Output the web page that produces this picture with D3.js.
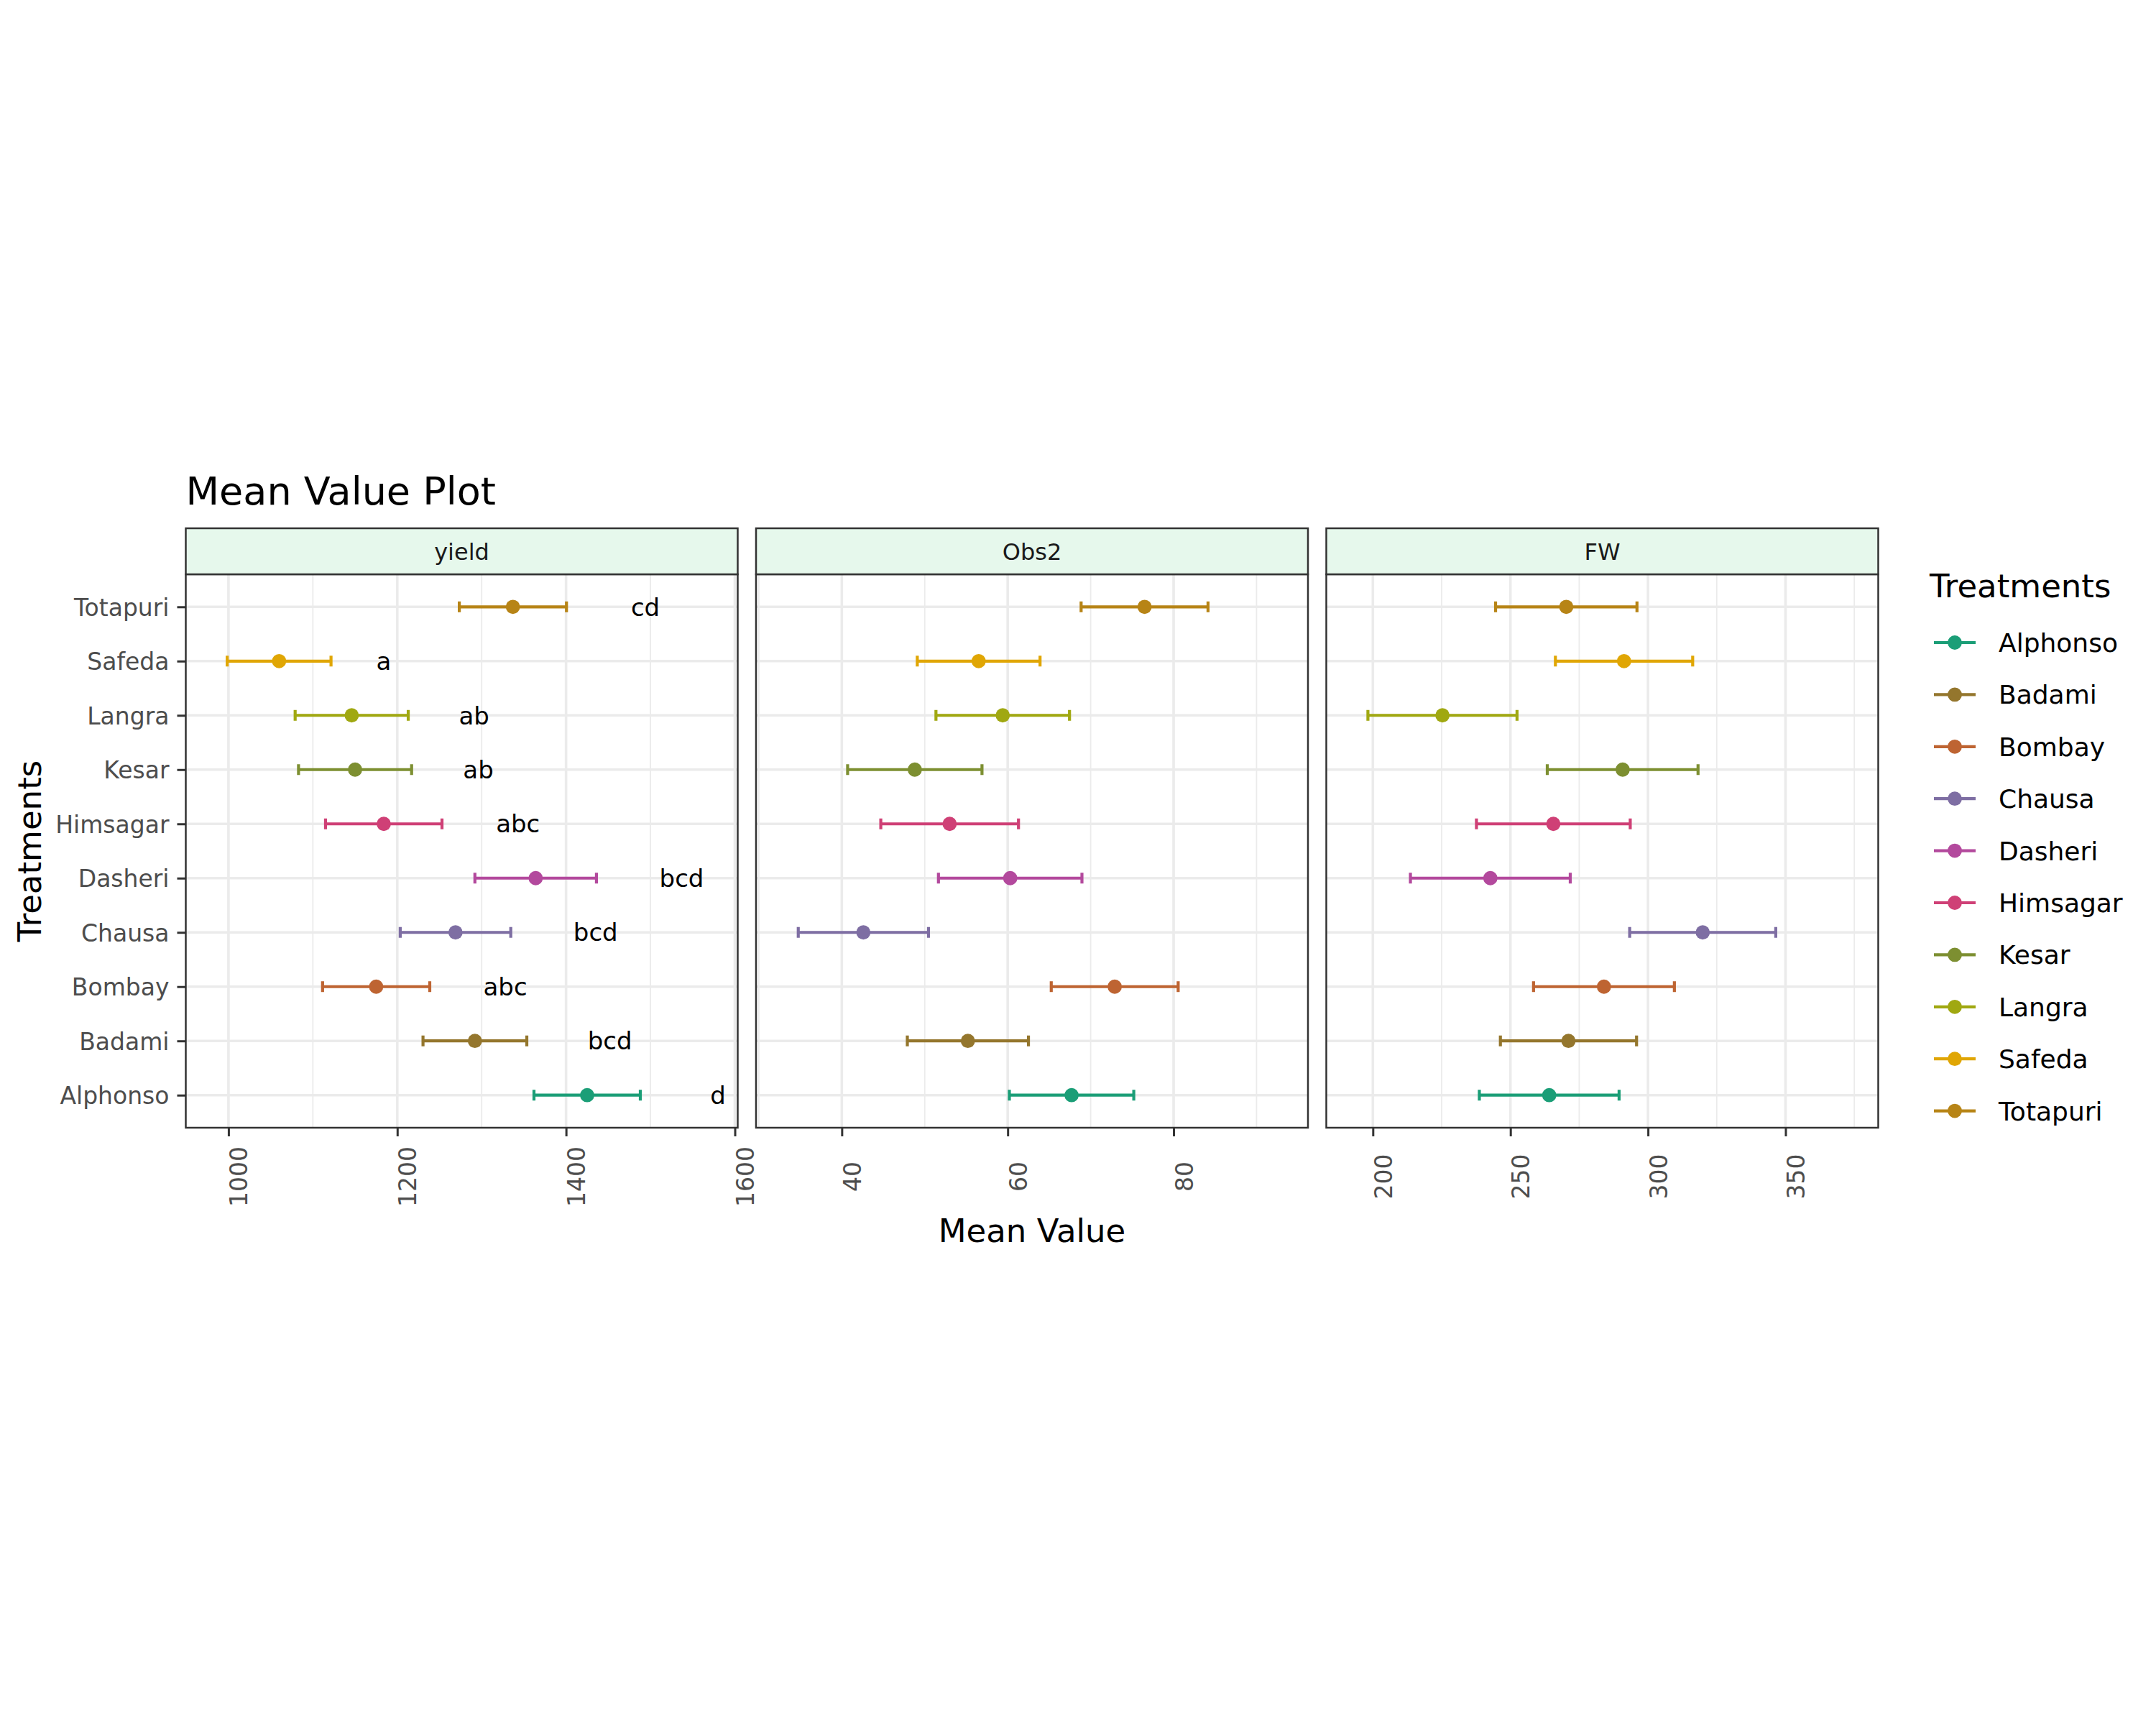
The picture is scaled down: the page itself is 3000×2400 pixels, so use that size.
<!DOCTYPE html>
<html>
<head>
<meta charset="utf-8">
<script src="https://cdn.jsdelivr.net/npm/d3@7"></script>
<style>
  body { margin: 0; background: #fff; }
  text { font-family: "DejaVu Sans", sans-serif; }
</style>
</head>
<body>
<svg id="chart"></svg>
<script>
// Treatments, bottom to top on the y axis (legend order top to bottom)
const treatments = ['Alphonso', 'Badami', 'Bombay', 'Chausa', 'Dasheri', 'Himsagar', 'Kesar', 'Langra', 'Safeda', 'Totapuri'];
const treatmentColors = ['#1B9E77', '#94762D', '#BE6432', '#7E6EA3', '#B3499D', '#CF4076', '#7D8F31', '#A0A811', '#E0A604', '#B78416'];

// yield
const yieldMean = [1425, 1292, 1175, 1269, 1364, 1184, 1150, 1146, 1060, 1337];
const yieldSe = [63, 61.5, 63.5, 65.5, 72, 69, 67, 67, 61.5, 63.5];
const yieldLetters = ['d', 'bcd', 'abc', 'bcd', 'bcd', 'abc', 'ab', 'ab', 'a', 'cd'];
const yieldLetterX = [1580, 1452, 1328, 1435, 1537, 1343, 1296, 1291, 1184, 1494];

// Obs2
const obs2Mean = [67.7, 55.2, 72.9, 42.6, 60.3, 53.0, 48.8, 59.4, 56.5, 76.5];
const obs2Se = [7.5, 7.3, 7.65, 7.85, 8.65, 8.3, 8.1, 8.05, 7.4, 7.65];

// FW
const fwMean = [264.1, 271.1, 284.0, 319.9, 242.7, 265.6, 290.8, 225.3, 291.3, 270.3];
const fwSe = [25.4, 24.75, 25.6, 26.55, 29.05, 27.95, 27.4, 27.1, 24.95, 25.7];

// axis ticks per panel
const yieldTicks = [1000, 1200, 1400, 1600];
const yieldMinor = [1100, 1300, 1500];
const obs2Ticks = [40, 60, 80];
const obs2Minor = [30, 50, 70, 90];
const fwTicks = [200, 250, 300, 350];
const fwMinor = [225, 275, 325, 375];

const panels = [
  { name: 'yield', mean: yieldMean, se: yieldSe, domain: [949.4, 1603.4], ticks: yieldTicks, minor: yieldMinor, letters: yieldLetters, letterX: yieldLetterX },
  { name: 'Obs2', mean: obs2Mean, se: obs2Se, domain: [29.66, 96.2], ticks: obs2Ticks, minor: obs2Minor },
  { name: 'FW', mean: fwMean, se: fwSe, domain: [183.07, 383.7], ticks: fwTicks, minor: fwMinor }
];

const W = 3000, H = 2400;
const layout = { left: 258.5, panelW: 768, gap: 25.5, stripTop: 735, top: 799, bottom: 1569 };
const gridColor = '#EBEBEB';
const borderColor = '#333333';

const svg = d3.select('#chart').attr('width', W).attr('height', H);
svg.append('rect').attr('width', W).attr('height', H).attr('fill', '#fff');

const yScale = d3.scalePoint()
  .domain(treatments)
  .range([layout.bottom, layout.top])
  .padding(0.6);

const color = d3.scaleOrdinal().domain(treatments).range(treatmentColors);

panels.forEach((p, i) => {
  const x0 = layout.left + i * (layout.panelW + layout.gap);
  const g = svg.append('g').attr('transform', `translate(${x0},0)`);
  const x = d3.scaleLinear().domain(p.domain).range([0, layout.panelW]);
  const rows = treatments.map((t, j) => ({ t, mean: p.mean[j], se: p.se[j] }));

  // minor grid
  g.selectAll('.minor').data(p.minor).join('line')
    .attr('class', 'minor')
    .attr('x1', d => x(d)).attr('x2', d => x(d))
    .attr('y1', layout.top).attr('y2', layout.bottom)
    .attr('stroke', gridColor).attr('stroke-width', 1.8);

  // major grid
  g.selectAll('.major').data(p.ticks).join('line')
    .attr('class', 'major')
    .attr('x1', d => x(d)).attr('x2', d => x(d))
    .attr('y1', layout.top).attr('y2', layout.bottom)
    .attr('stroke', gridColor).attr('stroke-width', 3.6);

  g.selectAll('.hgrid').data(treatments).join('line')
    .attr('class', 'hgrid')
    .attr('x1', 0).attr('x2', layout.panelW)
    .attr('y1', d => yScale(d)).attr('y2', d => yScale(d))
    .attr('stroke', gridColor).attr('stroke-width', 3.6);

  // error bars (mean +/- se)
  const bars = g.selectAll('.bar').data(rows).join('g').attr('class', 'bar')
    .attr('stroke', d => color(d.t)).attr('stroke-width', 4.2);
  bars.append('line')
    .attr('x1', d => x(d.mean - d.se)).attr('x2', d => x(d.mean + d.se))
    .attr('y1', d => yScale(d.t)).attr('y2', d => yScale(d.t));
  bars.append('line')
    .attr('x1', d => x(d.mean - d.se)).attr('x2', d => x(d.mean - d.se))
    .attr('y1', d => yScale(d.t) - 7.5).attr('y2', d => yScale(d.t) + 7.5);
  bars.append('line')
    .attr('x1', d => x(d.mean + d.se)).attr('x2', d => x(d.mean + d.se))
    .attr('y1', d => yScale(d.t) - 7.5).attr('y2', d => yScale(d.t) + 7.5);

  // points
  g.selectAll('.pt').data(rows).join('circle')
    .attr('class', 'pt')
    .attr('cx', d => x(d.mean)).attr('cy', d => yScale(d.t))
    .attr('r', 9.9)
    .attr('fill', d => color(d.t));

  // significance letters
  if (p.letters) {
    g.selectAll('.letter').data(treatments).join('text')
      .attr('class', 'letter')
      .attr('x', (d, j) => x(p.letterX[j]))
      .attr('y', d => yScale(d))
      .attr('dy', '0.36em')
      .attr('text-anchor', 'middle')
      .attr('font-size', 34)
      .attr('fill', '#000')
      .text((d, j) => p.letters[j]);
  }

  // panel border
  g.append('rect')
    .attr('x', 0).attr('y', layout.top)
    .attr('width', layout.panelW).attr('height', layout.bottom - layout.top)
    .attr('fill', 'none').attr('stroke', borderColor).attr('stroke-width', 2.5);

  // strip
  g.append('rect')
    .attr('x', 0).attr('y', layout.stripTop)
    .attr('width', layout.panelW).attr('height', layout.top - layout.stripTop)
    .attr('fill', '#E6F8EC').attr('stroke', borderColor).attr('stroke-width', 2.5);
  g.append('text')
    .attr('x', layout.panelW / 2)
    .attr('y', (layout.stripTop + layout.top) / 2)
    .attr('dy', '0.36em')
    .attr('text-anchor', 'middle')
    .attr('font-size', 32)
    .attr('fill', '#1A1A1A')
    .text(p.name);

  // x axis
  const xAxisG = g.append('g')
    .attr('transform', `translate(0,${layout.bottom})`)
    .call(d3.axisBottom(x).tickValues(p.ticks).tickSize(12).tickFormat(d3.format('d')));
  xAxisG.select('.domain').remove();
  xAxisG.selectAll('.tick line').attr('stroke', borderColor).attr('stroke-width', 3);
  xAxisG.selectAll('.tick text')
    .attr('transform', 'rotate(-90)')
    .attr('x', -68).attr('y', 26).attr('dy', null)
    .attr('text-anchor', 'middle')
    .attr('font-size', 33)
    .attr('font-family', '"DejaVu Sans", sans-serif')
    .attr('fill', '#4D4D4D');

  // y axis only on the first panel
  if (i === 0) {
    const yAxisG = g.append('g')
      .call(d3.axisLeft(yScale).tickSize(12).tickPadding(11));
    yAxisG.select('.domain').remove();
    yAxisG.selectAll('.tick line').attr('stroke', borderColor).attr('stroke-width', 3);
    yAxisG.selectAll('.tick text')
      .attr('dy', '0.36em')
      .attr('font-size', 33)
      .attr('font-family', '"DejaVu Sans", sans-serif')
      .attr('fill', '#4D4D4D');
  }
});

// titles
svg.append('text')
  .attr('x', layout.left).attr('y', 702)
  .attr('font-size', 54).attr('fill', '#000')
  .text('Mean Value Plot');

const panelsRight = layout.left + 3 * layout.panelW + 2 * layout.gap;
svg.append('text')
  .attr('x', (layout.left + panelsRight) / 2).attr('y', 1728)
  .attr('text-anchor', 'middle')
  .attr('font-size', 45).attr('fill', '#000')
  .text('Mean Value');

svg.append('text')
  .attr('transform', `translate(57,${(layout.top + layout.bottom) / 2}) rotate(-90)`)
  .attr('text-anchor', 'middle')
  .attr('font-size', 45).attr('fill', '#000')
  .text('Treatments');

// legend
const legend = svg.append('g').attr('transform', 'translate(2685,0)');
legend.append('text')
  .attr('x', 0).attr('y', 831)
  .attr('font-size', 45).attr('fill', '#000')
  .text('Treatments');

const legendRows = legend.selectAll('.leg').data(treatments).join('g')
  .attr('class', 'leg')
  .attr('transform', (d, i) => `translate(0,${894 + i * 72.4})`);
legendRows.append('line')
  .attr('x1', 6).attr('x2', 64).attr('y1', 0).attr('y2', 0)
  .attr('stroke', d => color(d)).attr('stroke-width', 4.2);
legendRows.append('circle')
  .attr('cx', 35).attr('cy', 0).attr('r', 9.9)
  .attr('fill', d => color(d));
legendRows.append('text')
  .attr('x', 96).attr('y', 0).attr('dy', '0.36em')
  .attr('font-size', 36).attr('fill', '#000')
  .text(d => d);
</script>
</body>
</html>
